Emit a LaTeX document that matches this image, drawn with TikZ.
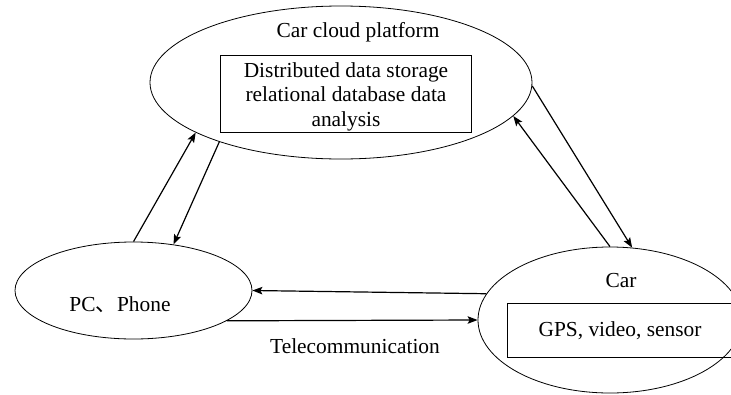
\documentclass[tikz,border=0pt]{standalone}
\usepackage{fontspec}
\setmainfont{Liberation Serif}
\newfontfamily\cjkfont{Noto Sans CJK SC}
\usetikzlibrary{shapes.geometric,arrows.meta}

\begin{document}
\begin{tikzpicture}[x=1pt,y=-1pt,
  oval/.style={draw, ellipse, inner sep=0pt, line width=0.8pt},
  box/.style={draw, rectangle, inner sep=0pt, line width=0.8pt},
  txt/.style={font=\fontsize{21.4}{24.4}\selectfont, inner sep=0pt},
  link/.style={line width=1.2pt, -{Stealth[length=10pt,width=7.5pt,inset=2pt]}}]
\useasboundingbox (0,0) rectangle (731,394);

% cloud platform
\node[oval, minimum width=382pt, minimum height=153pt] (cloud) at (341,82.5) {};
\node[txt, anchor=base] (cloudtitle) at (358,37) {Car cloud platform};
\node[box, minimum width=251pt, minimum height=77pt] (store) at (345.5,93.5) {};
\node[txt, align=center, anchor=north] (storetext) at (346,62.4)
  {Distributed data storage\\relational database data\\analysis};

% terminal devices
\node[oval, minimum width=237pt, minimum height=97pt] (pc) at (133.5,290.5) {};
\node[txt, anchor=base] (pctext) at (120,311) {PC{\cjkfont 、}Phone};

% vehicle
\node[oval, minimum width=264pt, minimum height=146pt] (car) at (610,320) {};
\node[txt, anchor=base] (cartitle) at (621,287) {Car};
\node[box, anchor=north west, minimum width=226pt, minimum height=54pt] (sensors) at (507,303) {};
\node[txt, anchor=base] (sensortext) at (620,336) {GPS, video, sensor};

% links
\draw[link] (pc.90) -- (cloud.199.3);
\draw[link] (cloud.206.6) -- (pc.49.5);
\draw[link] (cloud.359) -- (car.73);
\draw[link] (car.90) -- (cloud.349.2);
\draw[link] (car.168) -- (pc.0);
\draw[link] (pc.342.8) -- (car.180);
\node[txt, anchor=base] (telecom) at (355,353) {Telecommunication};
\end{tikzpicture}
\end{document}
